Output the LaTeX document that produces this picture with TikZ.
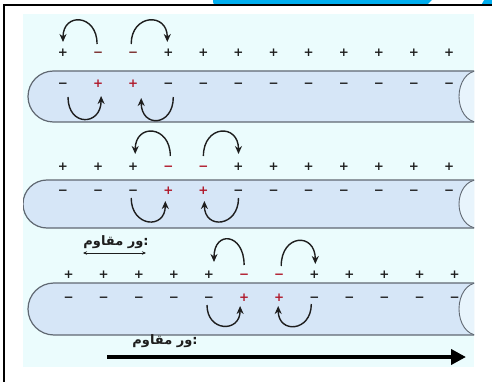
\documentclass[tikz,border=0pt]{standalone}
\usepackage{fontspec}
\usetikzlibrary{arrows.meta}
\newfontfamily\chgfont{DejaVu Sans}
\newfontfamily\arabicfont[Script=Arabic]{DejaVu Sans}
\TeXXeTstate=1

\definecolor{bgcyan}{RGB}{235,252,253}
\definecolor{axonfill}{RGB}{214,230,247}
\definecolor{axonedge}{RGB}{96,104,114}
\definecolor{axonendfill}{RGB}{232,244,252}
\definecolor{tabblue}{RGB}{0,174,239}
\definecolor{flipred}{RGB}{176,24,42}
\definecolor{flipdark}{RGB}{120,40,40}
\definecolor{ink}{RGB}{30,30,30}

\tikzset{
  chg/.style={font=\chgfont\bfseries\fontsize{12}{12}\selectfont, text=ink,
    inner sep=0pt, text height=0.7em, text depth=0pt, anchor=center},
  flow/.style={draw=ink, line width=1.4pt, -{Stealth[length=8pt,width=7pt]}},
  membrane/.style={fill=axonfill, draw=axonedge, line width=1.2pt},
  axonend/.style={fill=axonendfill, draw=axonedge, line width=0.9pt},
  rtllabel/.style={font=\arabicfont\bfseries\fontsize{13}{13}\selectfont, text=ink, inner sep=0pt},
  span/.style={draw=ink, line width=0.8pt, {Stealth[length=4pt,width=3.5pt]}-{Stealth[length=4pt,width=3.5pt]}},
  wave/.style={draw=black, line width=4pt, -{Triangle[length=15pt,width=15pt]}},
}

% axon segment: left x, top y, bottom y (rounded left end, cut right end)
\newcommand\axonbody[3]{%
  \pgfmathsetmacro\axR{(#3-#2)/2}%
  \pgfmathsetmacro\axK{0.5523*\axR}%
  \pgfmathsetmacro\axM{(#2+#3)/2}%
  \filldraw[membrane] (480,#2) -- ({#1+\axR},#2)
    .. controls ({#1+\axR-\axK},#2) and (#1,{\axM-\axK}) .. (#1,\axM)
    .. controls (#1,{\axM+\axK}) and ({#1+\axR-\axK},#3) .. ({#1+\axR},#3)
    -- (480,#3);
  \filldraw[axonend] (477,\axM) ellipse [x radius=18, y radius=\axR];
}

% charges along one axon: prefix, first x, outer y, inner y,
% index of the first reversed pair, colour of the reversed outer charges
\newcommand\chargerow[6]{%
  \foreach \i in {1,...,12}{%
    \pgfmathsetmacro\chgx{#2+(\i-1)*35.1}%
    \pgfmathtruncatemacro\chgflip{((\i==#5)||(\i==#5+1))?1:0}%
    \ifnum\chgflip=1
      \node[chg,text=#6] (#1o\i) at (\chgx,#3) {−};
      \node[chg,text=flipred] (#1i\i) at (\chgx,#4) {+};
    \else
      \node[chg] (#1o\i) at (\chgx,#3) {+};
      \node[chg] (#1i\i) at (\chgx,#4) {−};
    \fi
  }%
}

\begin{document}
\begin{tikzpicture}[x=1pt,y=-1pt]
\useasboundingbox (0,0) rectangle (492,382);
\fill[white] (0,0) rectangle (492,382);

% header tab and frame
\fill[tabblue, rounded corners=3pt] (213,-6) rectangle (500,5);
\fill[white] (432,0) -- (427,5) -- (481,5) -- (484,0) -- cycle;
\draw[black, line width=2pt] (4,390) -- (4,5) -- (500,5);

% panel
\fill[bgcyan] (23,14) rectangle (474,367);

\begin{scope}
  \clip (23,14) rectangle (474,367);
  \axonbody{28}{71}{122}
  \axonbody{23}{180}{228}
  \axonbody{28}{283}{335}
\end{scope}

% charges
\chargerow{a1}{63}{53}{84}{2}{flipdark}
\chargerow{a2}{63}{167}{191}{4}{flipred}
\chargerow{a3}{68.6}{275}{298}{6}{flipred}

% local currents, axon 1
\draw[flow] ([shift={(-1,-9)}]a1o2.center) .. controls +(0,-30) and +(0,-30) .. ([shift={(0,-11)}]a1o1.center);
\draw[flow] ([shift={(-2,-9)}]a1o3.center) .. controls +(0,-30) and +(0,-30) .. ([shift={(-1,-11)}]a1o4.center);
\draw[flow] ([shift={(5,13)}]a1i1.center) .. controls +(0,30) and +(0,30) .. ([shift={(3,12)}]a1i2.center);
\draw[flow] ([shift={(5,13)}]a1i4.center) .. controls +(0,30) and +(0,30) .. ([shift={(8,14)}]a1i3.center);

% local currents, axon 2
\draw[flow] ([shift={(2,-11)}]a2o4.center) .. controls +(0,-31) and +(0,-31) .. ([shift={(2,-13)}]a2o3.center);
\draw[flow] ([shift={(0,-11)}]a2o5.center) .. controls +(0,-31) and +(0,-31) .. ([shift={(0,-13)}]a2o6.center);
\draw[flow] ([shift={(-2,7)}]a2i3.center) .. controls +(0,29) and +(0,29) .. ([shift={(-3,10)}]a2i4.center);
\draw[flow] ([shift={(0,7)}]a2i6.center) .. controls +(0,29) and +(0,29) .. ([shift={(1,10)}]a2i5.center);

% local currents, axon 3
\draw[flow] ([shift={(0,-10)}]a3o6.center) .. controls +(0,-32) and +(0,-32) .. ([shift={(5,-13)}]a3o5.center);
\draw[flow] ([shift={(2,-9)}]a3o7.center) .. controls +(0,-32) and +(0,-32) .. ([shift={(1,-11)}]a3o8.center);
\draw[flow] ([shift={(-2,7)}]a3i5.center) .. controls +(0,27) and +(0,27) .. ([shift={(-4,8)}]a3i6.center);
\draw[flow] ([shift={(-3,6)}]a3i8.center) .. controls +(0,28) and +(0,28) .. ([shift={(-1,8)}]a3i7.center);

% refractory span under axon 2
\node[rtllabel] (lbl2) at (116,242) {\beginR ور مقاوم\endR:};
\coordinate (s2a) at (83,253);
\coordinate (s2b) at (146,253);
\draw[span] (s2a) -- (s2b);

% refractory label and propagation direction under axon 3
\node[rtllabel] (lbl3) at (165,341) {\beginR ور مقاوم\endR:};
\coordinate (w0) at (107,357);
\coordinate (w1) at (466,357);
\draw[wave] (w0) -- (w1);
\end{tikzpicture}
\end{document}
